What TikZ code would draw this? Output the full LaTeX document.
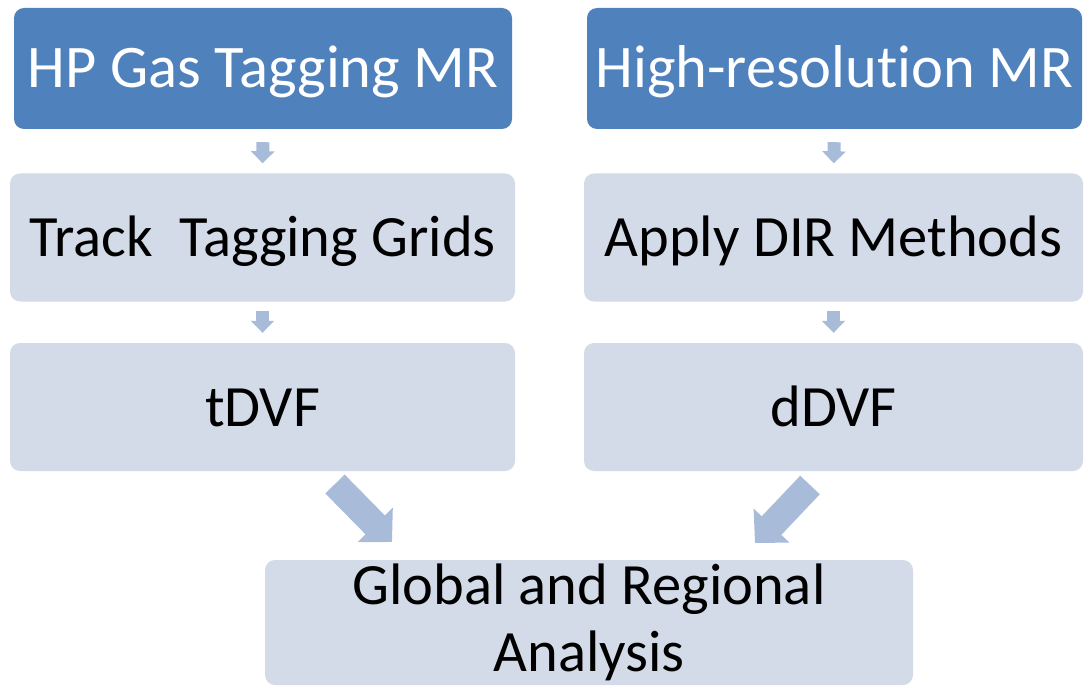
\documentclass[tikz,border=0pt]{standalone}
\usepackage{fontspec}
\setmainfont[Ligatures=NoCommon]{Carlito}
\usetikzlibrary{arrows.meta}
\definecolor{boxblue}{HTML}{4F81BD}
\definecolor{boxlight}{HTML}{D3DAE8}
\definecolor{arrowblue}{HTML}{A8BBD9}
\begin{document}
\begin{tikzpicture}[x=1pt,y=-1pt,
  box/.style={rounded corners=10pt, inner sep=0pt, align=center,
    font=\fontsize{58.5}{67}\selectfont},
  oneline/.style={text height=38pt, text depth=0pt},
  topbox/.style={box, oneline, fill=boxblue, text=white, font=\fontsize{60.5}{67}\selectfont},
  lightbox/.style={box, fill=boxlight, text=black},
  smallarrow/.style={draw=arrowblue, line width=13pt, -{Triangle[width=23pt,length=12pt,fill=arrowblue]}},
  bigarrow/.style={draw=arrowblue, line width=27pt, -{Triangle[width=48pt,length=24pt,fill=arrowblue]}}]
\useasboundingbox (0,0) rectangle (1086,687);
\clip (0,0) rectangle (1086,687);
% top row
\node[topbox, minimum width=498pt, minimum height=121pt] (b1) at (263,68.5) {HP Gas Tagging MR};
\node[topbox, minimum width=495pt, minimum height=121pt] (b2) at (834.5,68.5) {High-resolution MR};
% middle row
\node[lightbox, oneline, minimum width=505pt, minimum height=128pt] (m1) at (262.5,237.5) {Track\ \ Tagging Grids};
\node[lightbox, oneline, minimum width=499pt, minimum height=128pt] (m2) at (833.5,237.5) {Apply DIR Methods};
% third row
\node[lightbox, oneline, minimum width=505pt, minimum height=128pt] (t1) at (262.5,407) {tDVF};
\node[lightbox, oneline, minimum width=499pt, minimum height=128pt] (t2) at (833.5,407) {dDVF};
% bottom
\node[lightbox, minimum width=648pt, minimum height=125pt] (an) at (589,622.5) {Global and Regional\\Analysis};
% small arrows
\draw[smallarrow, shorten <=13pt, shorten >=10pt] (b1.south) -- (m1.north);
\draw[smallarrow, shorten <=13pt, shorten >=10pt] (b2.south) -- (m2.north);
\draw[smallarrow, shorten <=9pt, shorten >=10pt] (m1.south) -- (t1.north);
\draw[smallarrow, shorten <=9pt, shorten >=10pt] (m2.south) -- (t2.north);
% big arrows
\coordinate (c1) at (335,484);
\coordinate (c2) at (392,542);
\coordinate (c3) at (810,485);
\coordinate (c4) at (755,543);
\draw[bigarrow] (c1) -- (c2);
\draw[bigarrow] (c3) -- (c4);
\end{tikzpicture}
\end{document}
